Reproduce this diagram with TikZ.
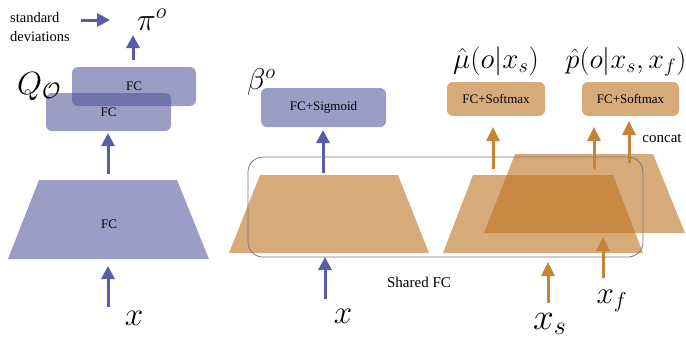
\documentclass[tikz,border=0pt]{standalone}
\usepackage{graphicx}
\usepackage{fontspec}
\setmainfont{Liberation Serif}
\usetikzlibrary{arrows.meta}
\definecolor{bluefill}{RGB}{78,83,152}
\definecolor{bluearrow}{RGB}{90,93,165}
\definecolor{orfill}{RGB}{189,114,33}
\definecolor{orarrow}{RGB}{198,132,58}
\definecolor{framegray}{RGB}{120,120,120}
\newcommand{\mybigmath}[2]{\scalebox{#1}{\fontsize{20}{24}\selectfont$#2$}}
\begin{document}
\begin{tikzpicture}[x=1pt,y=-1pt,
  bbox/.style={rounded corners=6pt, fill=bluefill, fill opacity=0.57, text opacity=1, inner sep=0pt, font=\fontsize{13}{15}\selectfont},
  obox/.style={rounded corners=6pt, fill=orfill, fill opacity=0.6, text opacity=1, inner sep=0pt, font=\fontsize{13}{15}\selectfont},
  btrap/.style={fill=bluefill, fill opacity=0.57},
  otrap/.style={fill=orfill, fill opacity=0.6},
  barrow/.style={draw=bluearrow, line width=3pt, -{Triangle[length=13pt,width=13pt]}},
  oarrow/.style={draw=orarrow, line width=3pt, -{Triangle[length=14pt,width=13pt]}},
  txt/.style={inner sep=0pt, font=\fontsize{15}{19}\selectfont},
  mlab/.style={inner sep=0pt, anchor=base},
]
\useasboundingbox (0,0) rectangle (686,343);

% ---------------- left part ----------------
\node[txt, anchor=west, align=left, font=\fontsize{14.5}{19}\selectfont] (std) at (10,27) {standard\\deviations};
\node[mlab] (pi) at (152,30) {\mybigmath{1.55}{\pi^{o}}};
\coordinate (stdA) at (81,20);
\coordinate (stdB) at (110,20);
\draw[barrow] (stdA) -- (stdB);

\node[bbox, minimum width=124pt, minimum height=39pt] (fcback) at (134,86.5) {FC};
\node[bbox, minimum width=125pt, minimum height=38pt] (fcfront) at (108.5,112) {FC};
\node[mlab, anchor=base west] (Q) at (17,94) {\mybigmath{1.55}{Q_{\mathcal{O}}}};
\coordinate (piA) at (133,60);
\coordinate (piB) at (133,35);
\draw[barrow] (piA) -- (piB);

\path[btrap] (39,180) -- (177,180) -- (209,259) -- (8,259) -- cycle;
\node[inner sep=0pt, font=\fontsize{13}{15}\selectfont] (fcl) at (109,224) {FC};
\coordinate (lA) at (108,174);
\coordinate (lB) at (108,133);
\draw[barrow] (lA) -- (lB);
\coordinate (lxA) at (108,307);
\coordinate (lxB) at (108,266);
\draw[barrow] (lxA) -- (lxB);
\node[mlab] (xl) at (134,325) {\mybigmath{1.6}{x}};

% ---------------- middle part ----------------
\node[mlab, anchor=base west] (beta) at (247,89) {\mybigmath{1.45}{\beta^{o}}};
\node[bbox, minimum width=125pt, minimum height=39pt] (sig) at (323.5,107.5) {FC+Sigmoid};
\path[otrap] (260,175) -- (398,175) -- (429,253) -- (229,253) -- cycle;
\coordinate (mA) at (323,173);
\coordinate (mB) at (323,130);
\draw[barrow] (mA) -- (mB);
\coordinate (mxA) at (325,299);
\coordinate (mxB) at (325,257);
\draw[barrow] (mxA) -- (mxB);
\node[mlab] (xm) at (343,323) {\mybigmath{1.6}{x}};
\node[txt] (shared) at (419,282) {Shared FC};

% ---------------- right part ----------------
\node[mlab] (mu) at (496,68) {\mybigmath{1.4}{\hat{\mu}(o|x_s)}};
\node[mlab] (ph) at (626,68) {\mybigmath{1.36}{\hat{p}(o|x_s,x_f)}};
\node[obox, minimum width=98pt, minimum height=34pt] (soft1) at (496,99) {FC+Softmax};
\node[obox, minimum width=97pt, minimum height=34pt] (soft2) at (630.5,99) {FC+Softmax};
\path[otrap] (515,154) -- (653,154) -- (685,233) -- (484,233) -- cycle;
\path[otrap] (473,175) -- (613,175) -- (643,253) -- (443,253) -- cycle;
\node[txt] (concat) at (662,138) {concat};

\coordinate (r1A) at (493,169);
\coordinate (r1B) at (493,127);
\draw[oarrow] (r1A) -- (r1B);
\coordinate (r2A) at (594,169);
\coordinate (r2B) at (594,127);
\draw[oarrow] (r2A) -- (r2B);
\coordinate (r3A) at (629,163);
\coordinate (r3B) at (629,121);
\draw[oarrow] (r3A) -- (r3B);
\coordinate (xsA) at (548,303);
\coordinate (xsB) at (548,262);
\draw[oarrow] (xsA) -- (xsB);
\coordinate (xfA) at (603,278);
\coordinate (xfB) at (603,237);
\draw[oarrow] (xfA) -- (xfB);
\node[mlab] (xs) at (550,329) {\mybigmath{1.8}{x_s}};
\node[mlab] (xf) at (612,303) {\mybigmath{1.5}{x_f}};

% shared frame
\draw[framegray, line width=0.8pt, rounded corners=15pt] (248,157) rectangle (643,257);
\end{tikzpicture}
\end{document}
